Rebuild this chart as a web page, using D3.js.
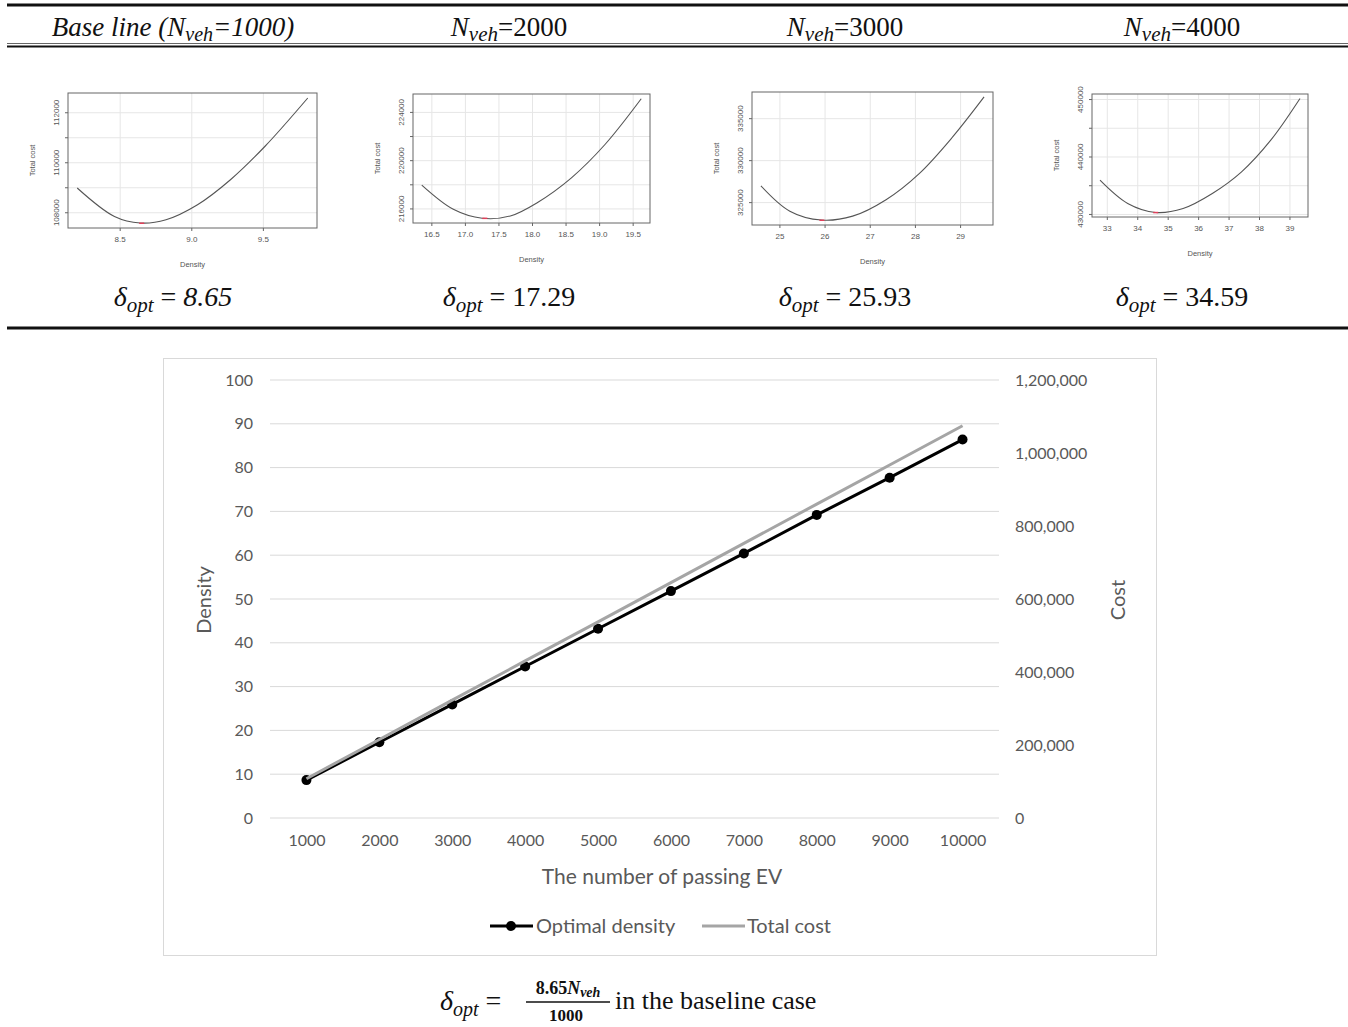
<!DOCTYPE html>
<html>
<head>
<meta charset="utf-8">
<script src="https://cdn.jsdelivr.net/npm/d3@7"></script>
<style>
  body { margin: 0; background: #fff; }
</style>
</head>
<body>
<svg id="fig" width="1348" height="1027"></svg>
<script>
// main chart data
var evCounts = [1000, 2000, 3000, 4000, 5000, 6000, 7000, 8000, 9000, 10000];
var optDensity = [8.65, 17.29, 25.93, 34.59, 43.2, 51.8, 60.4, 69.2, 77.7, 86.4];
var totalCost = [107600, 215200, 322900, 430300, 537500, 645000, 752300, 860000, 967200, 1074600];
var densityTicks = [0, 10, 20, 30, 40, 50, 60, 70, 80, 90, 100];
var costTicks = [0, 200000, 400000, 600000, 800000, 1000000, 1200000];

// small panels (total cost vs density for a fixed N_veh)
var panelVeh = [1000, 2000, 3000, 4000];
var panelOptDensity = [8.65, 17.29, 25.93, 34.59];
var panelOptCost = [107580, 215220, 322900, 430330];

var curveVeh1000 = [[8.20, 108990], [8.46, 107850], [8.64, 107590], [8.82, 107720], [9.04, 108320], [9.27, 109320], [9.51, 110650], [9.81, 112590]];
var curveVeh2000 = [[16.35, 217980], [16.82, 215975], [17.25, 215230], [17.67, 215420], [18.07, 216520], [18.58, 218580], [19.08, 221340], [19.62, 225130]];
var curveVeh3000 = [[24.58, 327000], [25.22, 323980], [25.92, 322920], [26.61, 323390], [27.35, 325350], [28.09, 328490], [28.82, 332800], [29.52, 337590]];
var curveVeh4000 = [[32.76, 435970], [33.67, 431910], [34.59, 430350], [35.49, 431040], [36.45, 433650], [37.41, 437410], [38.37, 442920], [39.33, 450170]];

var xTicksVeh1000 = [8.5, 9.0, 9.5];
var xTicksVeh2000 = [16.5, 17.0, 17.5, 18.0, 18.5, 19.0, 19.5];
var xTicksVeh3000 = [25, 26, 27, 28, 29];
var xTicksVeh4000 = [33, 34, 35, 36, 37, 38, 39];

var yTicksVeh1000 = [108000, 109000, 110000, 111000, 112000];
var yTicksVeh2000 = [216000, 218000, 220000, 222000, 224000];
var yTicksVeh3000 = [325000, 330000, 335000];
var yTicksVeh4000 = [430000, 435000, 440000, 445000, 450000];

var yLabelsVeh1000 = [108000, 110000, 112000];
var yLabelsVeh2000 = [216000, 220000, 224000];
var yLabelsVeh3000 = [325000, 330000, 335000];
var yLabelsVeh4000 = [430000, 440000, 450000];

var svg = d3.select("#fig");
var serif = "'Liberation Serif', 'Times New Roman', serif";
var colCenters = [173, 509, 845, 1182];

// ---- table rules ----
var rules = svg.append("g").attr("stroke", "#111");
rules.append("line").attr("x1", 7).attr("x2", 1348).attr("y1", 5).attr("y2", 5).attr("stroke-width", 3);
rules.append("line").attr("x1", 7).attr("x2", 1348).attr("y1", 43.5).attr("y2", 43.5).attr("stroke-width", 1).attr("stroke", "#666");
rules.append("line").attr("x1", 7).attr("x2", 1348).attr("y1", 46.5).attr("y2", 46.5).attr("stroke-width", 2);
rules.append("line").attr("x1", 7).attr("x2", 1348).attr("y1", 328).attr("y2", 328).attr("stroke-width", 3);

// ---- column headers ----
panelVeh.forEach(function(n, i) {
  var t = svg.append("text")
    .attr("x", colCenters[i]).attr("y", 36)
    .attr("text-anchor", "middle")
    .style("font-family", serif).style("font-size", "27px").attr("fill", "#111");
  if (i === 0) {
    t.append("tspan").style("font-style", "italic").text("Base line (N");
    t.append("tspan").style("font-style", "italic").style("font-size", "20px").attr("dy", 5).text("veh");
    t.append("tspan").style("font-style", "italic").attr("dy", -5).text("=" + n + ")");
  } else {
    t.append("tspan").style("font-style", "italic").text("N");
    t.append("tspan").style("font-style", "italic").style("font-size", "21px").attr("dy", 5).text("veh");
    t.append("tspan").attr("dy", -5).text("=" + n);
  }
});

// ---- optimum labels ----
panelOptDensity.forEach(function(v, i) {
  var t = svg.append("text")
    .attr("x", colCenters[i]).attr("y", 306)
    .attr("text-anchor", "middle")
    .style("font-family", serif).style("font-size", "28px").attr("fill", "#111");
  t.append("tspan").style("font-style", "italic").text("δ");
  t.append("tspan").style("font-style", "italic").style("font-size", "21px").attr("dy", 6).text("opt");
  t.append("tspan").attr("dy", -6).text(" = ");
  t.append("tspan").style("font-style", i === 0 ? "italic" : "normal").text(d3.format(".2f")(v));
});

// ---- small R-style panels ----
var panelBoxes = [
  {left: 68, top: 93, right: 317, bottom: 228},
  {left: 413, top: 94, right: 650, bottom: 223},
  {left: 752, top: 92, right: 993, bottom: 225},
  {left: 1092, top: 94, right: 1308, bottom: 217}
];
var curves = [curveVeh1000, curveVeh2000, curveVeh3000, curveVeh4000];
var xTickSets = [xTicksVeh1000, xTicksVeh2000, xTicksVeh3000, xTicksVeh4000];
var yTickSets = [yTicksVeh1000, yTicksVeh2000, yTicksVeh3000, yTicksVeh4000];
var yLabelSets = [yLabelsVeh1000, yLabelsVeh2000, yLabelsVeh3000, yLabelsVeh4000];
var xFormats = [d3.format(".1f"), d3.format(".1f"), d3.format("d"), d3.format("d")];

function padExtent(vals) {
  // R pads the data range by 4% on each side
  var e = d3.extent(vals), p = (e[1] - e[0]) * 0.04;
  return [e[0] - p, e[1] + p];
}

curves.forEach(function(curve, i) {
  var b = panelBoxes[i];
  var px = d3.scaleLinear().domain(padExtent(curve.map(function(d) { return d[0]; }))).range([b.left, b.right]);
  var py = d3.scaleLinear().domain(padExtent(curve.map(function(d) { return d[1]; }))).range([b.bottom, b.top]);
  var g = svg.append("g").style("font-family", "'Liberation Sans', Arial, sans-serif").attr("fill", "#555");

  // grid
  g.selectAll(".vg").data(xTickSets[i]).enter().append("line")
    .attr("x1", function(d) { return px(d); }).attr("x2", function(d) { return px(d); })
    .attr("y1", b.top).attr("y2", b.bottom)
    .attr("stroke", "#e6e6e6").attr("stroke-width", 1);
  g.selectAll(".hg").data(yTickSets[i]).enter().append("line")
    .attr("x1", b.left).attr("x2", b.right)
    .attr("y1", function(d) { return py(d); }).attr("y2", function(d) { return py(d); })
    .attr("stroke", "#e6e6e6").attr("stroke-width", 1);

  // curve
  g.append("path").datum(curve)
    .attr("fill", "none").attr("stroke", "#555").attr("stroke-width", 1.1)
    .attr("d", d3.line().curve(d3.curveCatmullRom.alpha(0.5))
      .x(function(d) { return px(d[0]); })
      .y(function(d) { return py(d[1]); }));

  // optimum marker
  g.append("line")
    .attr("x1", px(panelOptDensity[i]) - 2.5).attr("x2", px(panelOptDensity[i]) + 2.5)
    .attr("y1", py(panelOptCost[i])).attr("y2", py(panelOptCost[i]))
    .attr("stroke", "#e0405a").attr("stroke-width", 1.5);

  // frame
  g.append("rect")
    .attr("x", b.left).attr("y", b.top)
    .attr("width", b.right - b.left).attr("height", b.bottom - b.top)
    .attr("fill", "none").attr("stroke", "#666").attr("stroke-width", 1);

  // x ticks
  g.selectAll(".xt").data(xTickSets[i]).enter().append("line")
    .attr("x1", function(d) { return px(d); }).attr("x2", function(d) { return px(d); })
    .attr("y1", b.bottom).attr("y2", b.bottom + 3)
    .attr("stroke", "#666");
  g.selectAll(".xl").data(xTickSets[i]).enter().append("text")
    .attr("x", function(d) { return px(d); }).attr("y", b.bottom + 14)
    .attr("text-anchor", "middle").style("font-size", "8px")
    .text(function(d) { return xFormats[i](d); });

  // y ticks
  g.selectAll(".yt").data(yTickSets[i]).enter().append("line")
    .attr("x1", b.left - 3).attr("x2", b.left)
    .attr("y1", function(d) { return py(d); }).attr("y2", function(d) { return py(d); })
    .attr("stroke", "#666");
  g.selectAll(".yl").data(yLabelSets[i]).enter().append("text")
    .attr("transform", function(d) { return "translate(" + (b.left - 9) + "," + py(d) + ")rotate(-90)"; })
    .attr("text-anchor", "middle").style("font-size", "8px")
    .text(function(d) { return d; });

  // axis titles
  g.append("text")
    .attr("x", (b.left + b.right) / 2).attr("y", b.bottom + 39)
    .attr("text-anchor", "middle").style("font-size", "7.5px")
    .text("Density");
  g.append("text")
    .attr("transform", "translate(" + (b.left - 33) + "," + ((b.top + b.bottom) / 2) + ")rotate(-90)")
    .attr("text-anchor", "middle").style("font-size", "7.5px")
    .text("Total cost");
});

// ---- main chart ----
var font = "Lato, 'Open Sans', sans-serif";
var textCol = "#595959";

svg.append("rect")
  .attr("x", 163.5).attr("y", 358.5).attr("width", 993).attr("height", 597)
  .attr("fill", "#fff").attr("stroke", "#d9d9d9").attr("stroke-width", 1);

var x = d3.scalePoint().domain(evCounts).range([270, 999]).padding(0.5);
var yL = d3.scaleLinear().domain([0, 100]).range([818, 380]);
var yR = d3.scaleLinear().domain([0, 1200000]).range([818, 380]);

var main = svg.append("g").style("font-family", font);

// gridlines
main.selectAll(".grid").data(densityTicks).enter().append("line")
  .attr("x1", 270).attr("x2", 999)
  .attr("y1", function(d) { return yL(d); }).attr("y2", function(d) { return yL(d); })
  .attr("stroke", "#d9d9d9").attr("stroke-width", 1);

// axes
var leftAxis = main.append("g").attr("transform", "translate(268,0)")
  .call(d3.axisLeft(yL).tickValues(densityTicks).tickSize(0).tickPadding(15));
var rightAxis = main.append("g").attr("transform", "translate(999,0)")
  .call(d3.axisRight(yR).tickValues(costTicks).tickSize(0).tickPadding(16).tickFormat(d3.format(",")));
var bottomAxis = main.append("g").attr("transform", "translate(0,818)")
  .call(d3.axisBottom(x).tickSize(0).tickPadding(17));

[leftAxis, rightAxis, bottomAxis].forEach(function(a) {
  a.select(".domain").remove();
  a.selectAll("text").style("font-family", font).style("font-size", "16px").attr("fill", textCol);
});

// series
main.append("path").datum(optDensity)
  .attr("fill", "none").attr("stroke", "#000").attr("stroke-width", 3)
  .attr("d", d3.line()
    .x(function(d, i) { return x(evCounts[i]); })
    .y(function(d) { return yL(d); }));
main.selectAll(".dot").data(optDensity).enter().append("circle")
  .attr("cx", function(d, i) { return x(evCounts[i]); })
  .attr("cy", function(d) { return yL(d); })
  .attr("r", 5).attr("fill", "#000");
main.append("path").datum(totalCost)
  .attr("fill", "none").attr("stroke", "#a5a5a5").attr("stroke-width", 3)
  .attr("d", d3.line()
    .x(function(d, i) { return x(evCounts[i]); })
    .y(function(d) { return yR(d); }));

// axis titles
main.append("text")
  .attr("transform", "translate(211,600)rotate(-90)")
  .attr("text-anchor", "middle").style("font-size", "20px").attr("fill", textCol)
  .text("Density");
main.append("text")
  .attr("transform", "translate(1125,600)rotate(-90)")
  .attr("text-anchor", "middle").style("font-size", "20px").attr("fill", textCol)
  .text("Cost");
main.append("text")
  .attr("x", 662).attr("y", 884)
  .attr("text-anchor", "middle").style("font-size", "21px").attr("fill", textCol)
  .text("The number of passing EV");

// legend
var leg = main.append("g");
leg.append("line").attr("x1", 490).attr("x2", 533).attr("y1", 926).attr("y2", 926)
  .attr("stroke", "#000").attr("stroke-width", 3);
leg.append("circle").attr("cx", 511).attr("cy", 926).attr("r", 5).attr("fill", "#000");
leg.append("text").attr("x", 536).attr("y", 933).style("font-size", "20px").attr("fill", textCol)
  .text("Optimal density");
leg.append("line").attr("x1", 702).attr("x2", 745).attr("y1", 926).attr("y2", 926)
  .attr("stroke", "#a5a5a5").attr("stroke-width", 3);
leg.append("text").attr("x", 747).attr("y", 933).style("font-size", "20px").attr("fill", textCol)
  .text("Total cost");

// ---- formula below ----
var f = svg.append("g").style("font-family", serif).attr("fill", "#111");
var lhs = f.append("text").attr("x", 440).attr("y", 1010).style("font-size", "28px");
lhs.append("tspan").style("font-style", "italic").text("δ");
lhs.append("tspan").style("font-style", "italic").style("font-size", "20px").attr("dy", 6).text("opt");
lhs.append("tspan").attr("dy", -6).text(" = ");
var num = f.append("text").attr("x", 568).attr("y", 994).attr("text-anchor", "middle")
  .style("font-size", "18px").style("font-weight", "bold");
num.append("tspan").text("8.65");
num.append("tspan").style("font-style", "italic").text("N");
num.append("tspan").style("font-style", "italic").style("font-size", "14px").attr("dy", 3).text("veh");
f.append("line").attr("x1", 526).attr("x2", 610).attr("y1", 1002).attr("y2", 1002)
  .attr("stroke", "#111").attr("stroke-width", 1.5);
f.append("text").attr("x", 566).attr("y", 1021).attr("text-anchor", "middle")
  .style("font-size", "17px").style("font-weight", "bold").text("1000");
f.append("text").attr("x", 615).attr("y", 1009).style("font-size", "26px")
  .text("in the baseline case");
</script>
</body>
</html>
